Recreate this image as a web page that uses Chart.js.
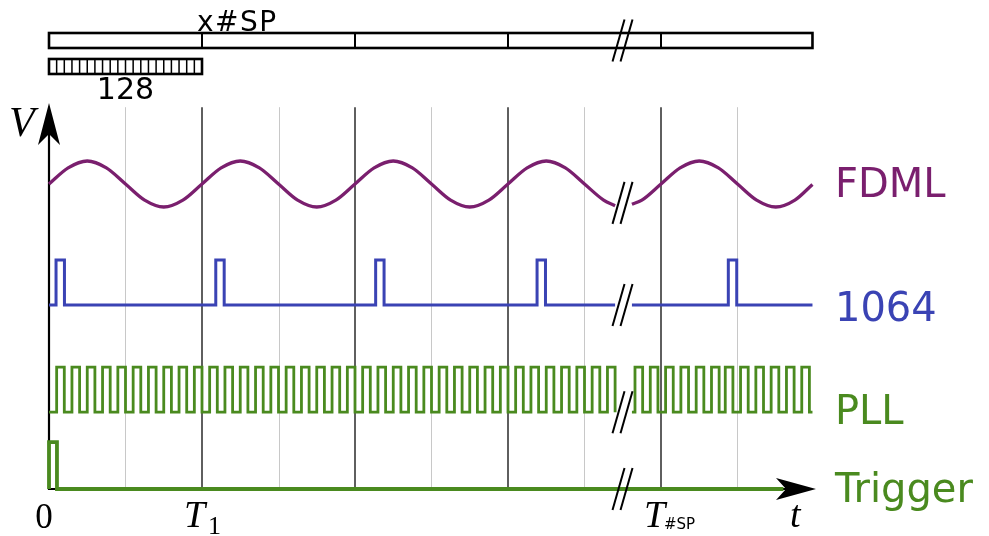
<!DOCTYPE html>
<html>
<head>
<meta charset="utf-8">
<script src="https://cdn.jsdelivr.net/npm/chart.js@4/dist/chart.umd.min.js"></script>
<style>
  html, body { margin: 0; padding: 0; background: #fff; }
  #wrap { width: 989px; height: 536px; position: relative; }
</style>
</head>
<body>
<div id="wrap"><canvas id="chart"></canvas></div>
<script>
// ============================================================
// Data (time in units of T, voltage in arbitrary units)
// ============================================================
const majorTicks = [1, 2, 3, 4];
const minorTicks = [0.5, 1.5, 2.5, 3.5, 4.5];
const spTicks = [1, 2, 3, 4];          // dividers in the x#SP bar
const sampleCells = 20;                 // cells drawn in the "128" bar

const gapFrom = 3.70;                   // signals stop here ...
const gapTo = 3.81;                     // ... and start again here
const tEnd = 4.99;

// FDML sweep (sampled every 1/8 T)
const fdmlT = [
  0, 0.125, 0.25, 0.375, 0.5, 0.625, 0.75, 0.875,
  1, 1.125, 1.25, 1.375, 1.5, 1.625, 1.75, 1.875,
  2, 2.125, 2.25, 2.375, 2.5, 2.625, 2.75, 2.875,
  3, 3.125, 3.25, 3.375, 3.5, 3.625, 3.70,
  3.81, 3.875, 4, 4.125, 4.25, 4.375, 4.5, 4.625, 4.75, 4.875, 4.99
];
const fdmlV = [
  6.63, 6.98, 7.13, 6.98, 6.63, 6.28, 6.13, 6.28,
  6.63, 6.98, 7.13, 6.98, 6.63, 6.28, 6.13, 6.28,
  6.63, 6.98, 7.13, 6.98, 6.63, 6.28, 6.13, 6.28,
  6.63, 6.98, 7.13, 6.98, 6.63, 6.28, 6.16,
  6.19, 6.28, 6.63, 6.98, 7.13, 6.98, 6.63, 6.28, 6.13, 6.28, 6.62
];

// 1064 nm pulses
const pulseRise = [0.046, 1.09, 2.135, 3.19, 4.44];
const pulseWidth = 0.055;
const pulseLow = 4.0;
const pulseHigh = 4.98;

// PLL clock: rising edges
const pllRise = [
  0.05, 0.15, 0.25, 0.35, 0.45, 0.55, 0.65, 0.75, 0.85, 0.95,
  1.05, 1.15, 1.25, 1.35, 1.45, 1.55, 1.65, 1.75, 1.85, 1.95,
  2.05, 2.15, 2.25, 2.35, 2.45, 2.55, 2.65, 2.75, 2.85, 2.95,
  3.05, 3.15, 3.25, 3.35, 3.45, 3.55, 3.65,
  3.83, 3.93, 4.03, 4.13, 4.23, 4.33, 4.42, 4.52, 4.62, 4.72, 4.82, 4.92
];
const pllWidth = 0.05;
const pllLow = 1.67;
const pllHigh = 2.65;

// Trigger
const trigRise = [0];
const trigWidth = 0.052;
const trigLow = 0;
const trigHigh = 1.02;
const trigEnd = 4.8;

const labels = ['FDML', '1064', 'PLL', 'Trigger'];

// ============================================================
// Colours
// ============================================================
const PURPLE = '#7a1f6e';
const BLUE = '#3a43b4';
const GREEN = '#4a8a1f';

// ============================================================
// Build stepped series
// ============================================================
function pulseTrain(rises, width, low, high, start, end) {
  const pts = [{ x: start, y: low }];
  rises.filter(t => t >= start && t < end).forEach(t => {
    pts.push({ x: t, y: high });
    pts.push({ x: Math.min(t + width, end), y: low });
  });
  pts.push({ x: end, y: low });
  return pts;
}

function withGap(rises, width, low, high) {
  return [
    ...pulseTrain(rises, width, low, high, 0, gapFrom),
    { x: (gapFrom + gapTo) / 2, y: null },
    ...pulseTrain(rises, width, low, high, gapTo, tEnd)
  ];
}

const fdmlData = [];
fdmlT.forEach((t, i) => {
  if (i > 0 && fdmlT[i - 1] === gapFrom) fdmlData.push({ x: (gapFrom + gapTo) / 2, y: null });
  fdmlData.push({ x: t, y: fdmlV[i] });
});

const pulseData = withGap(pulseRise, pulseWidth, pulseLow, pulseHigh);
const pllData = withGap(pllRise, pllWidth, pllLow, pllHigh);
const trigData = pulseTrain(trigRise, trigWidth, trigLow, trigHigh, 0, trigEnd);

// ============================================================
// Decoration plugin (grid, axes, bars, labels)
// ============================================================
const diagram = {
  id: 'diagram',
  beforeDatasetsDraw(chart) {
    const { ctx, scales: { x, y } } = chart;
    const X = v => x.getPixelForValue(v);
    const Y = v => y.getPixelForValue(v);
    ctx.save();

    // grid
    const gTop = Y(8.3), gBot = Y(0);
    ctx.lineWidth = 1;
    ctx.strokeStyle = '#c8c8c8';
    minorTicks.forEach(t => {
      ctx.beginPath(); ctx.moveTo(Math.round(X(t)) + 0.5, gTop); ctx.lineTo(Math.round(X(t)) + 0.5, gBot); ctx.stroke();
    });
    ctx.lineWidth = 1.5;
    ctx.strokeStyle = '#2a2a2a';
    majorTicks.forEach(t => {
      ctx.beginPath(); ctx.moveTo(X(t), gTop); ctx.lineTo(X(t), gBot); ctx.stroke();
    });

    // axes
    ctx.strokeStyle = '#000';
    ctx.lineWidth = 2.2;
    ctx.beginPath();
    ctx.moveTo(X(0), Y(0) + 1); ctx.lineTo(X(0), Y(8.0));
    ctx.moveTo(X(0) - 1, Y(0)); ctx.lineTo(X(4.85), Y(0));
    ctx.stroke();
    ctx.restore();
  },
  afterDatasetsDraw(chart) {
    const { ctx, scales: { x, y } } = chart;
    const X = v => x.getPixelForValue(v);
    const Y = v => y.getPixelForValue(v);
    ctx.save();
    ctx.fillStyle = '#000';
    ctx.strokeStyle = '#000';

    // arrow heads
    const ox = X(0), oy = Y(0);
    const ty = Y(8.39);
    ctx.beginPath();
    ctx.moveTo(ox, ty);
    ctx.lineTo(ox + 11, ty + 42);
    ctx.lineTo(ox, ty + 31);
    ctx.lineTo(ox - 11, ty + 42);
    ctx.closePath(); ctx.fill();
    const tx = X((816 - ox) / 153);
    ctx.beginPath();
    ctx.moveTo(tx, oy);
    ctx.lineTo(tx - 40, oy - 11);
    ctx.lineTo(tx - 30, oy);
    ctx.lineTo(tx - 40, oy + 11);
    ctx.closePath(); ctx.fill();

    // x#SP bar
    ctx.lineWidth = 2.6;
    const b1 = Y(9.913), b2 = Y(9.587);
    ctx.strokeRect(X(0), b1, X(tEnd) - X(0), b2 - b1);
    ctx.lineWidth = 2;
    ctx.beginPath();
    spTicks.forEach(t => { ctx.moveTo(X(t), b1); ctx.lineTo(X(t), b2); });
    ctx.stroke();

    // 128 bar
    const s1 = Y(9.348), s2 = Y(9.022);
    ctx.lineWidth = 2.6;
    ctx.strokeRect(X(0), s1, X(1) - X(0), s2 - s1);
    ctx.lineWidth = 1.5;
    ctx.beginPath();
    for (let i = 1; i < sampleCells; i++) {
      const px = X(i / sampleCells);
      ctx.moveTo(px, s1); ctx.lineTo(px, s2);
    }
    ctx.stroke();

    // break marks
    const bx = X((gapFrom + gapTo) / 2) - 1;
    ctx.lineWidth = 2;
    [9.75, 6.22, 4.0, 1.67, 0].forEach(v => {
      const cy = Y(v);
      [-4, 4].forEach(d => {
        ctx.beginPath();
        ctx.moveTo(bx + d - 6, cy + 21);
        ctx.lineTo(bx + d + 6, cy - 21);
        ctx.stroke();
      });
    });

    // texts above
    ctx.textBaseline = 'alphabetic';
    ctx.font = '28px "DejaVu Sans"';
    ctx.letterSpacing = '1.5px';
    ctx.textAlign = 'left';
    ctx.fillText('x#SP', X(1) - 5, 31);
    ctx.letterSpacing = '0px';
    ctx.font = '30px "DejaVu Sans"';
    ctx.textAlign = 'center';
    ctx.fillText('128', X(0.5), 99);

    // axis labels
    ctx.font = 'italic 42px "Liberation Serif"';
    ctx.textAlign = 'left';
    ctx.fillText('V', 9, 136);
    ctx.font = '35px "Liberation Serif"';
    ctx.textAlign = 'center';
    ctx.fillText('0', 44, 528);
    ctx.font = 'italic 38px "Liberation Serif"';
    ctx.textAlign = 'left';
    ctx.fillText('T', X(1) - 18, 527);
    ctx.fillText('T', X(4) - 17, 527);
    ctx.fillText('t', 790, 527);
    ctx.font = '26px "Liberation Serif"';
    ctx.fillText('1', X(1) + 6, 534);
    ctx.font = '15px "DejaVu Sans"';
    ctx.fillText('#SP', X(4) + 3, 529);

    // signal names
    ctx.font = '40px "DejaVu Sans"';
    ctx.textAlign = 'left';
    const lx = X(5.137);
    [[labels[0], PURPLE, 197], [labels[1], BLUE, 321], [labels[2], GREEN, 424], [labels[3], GREEN, 502]]
      .forEach(([txt, col, by]) => { ctx.fillStyle = col; ctx.fillText(txt, lx, by); });

    ctx.restore();
  }
};

// ============================================================
// Chart
// ============================================================
const line = (data, color, width, extra) => Object.assign({
  data,
  borderColor: color,
  borderWidth: width,
  pointRadius: 0,
  fill: false,
  spanGaps: false,
  borderCapStyle: 'butt',
  borderJoinStyle: 'miter'
}, extra);

new Chart(document.getElementById('chart'), {
  type: 'line',
  data: {
    datasets: [
      line(trigData, GREEN, 3.8, { stepped: true }),
      line(pllData, GREEN, 2.8, { stepped: true }),
      line(pulseData, BLUE, 3, { stepped: true }),
      line(fdmlData, PURPLE, 3.3, { cubicInterpolationMode: 'monotone' })
    ]
  },
  options: {
    animation: false,
    responsive: true,
    maintainAspectRatio: false,
    layout: { padding: 0 },
    plugins: { legend: { display: false }, tooltip: { enabled: false } },
    scales: {
      x: { type: 'linear', display: false, min: -49 / 153, max: 940 / 153 },
      y: { type: 'linear', display: false, min: -47 / 46, max: 489 / 46 }
    }
  },
  plugins: [diagram]
});
</script>
</body>
</html>
